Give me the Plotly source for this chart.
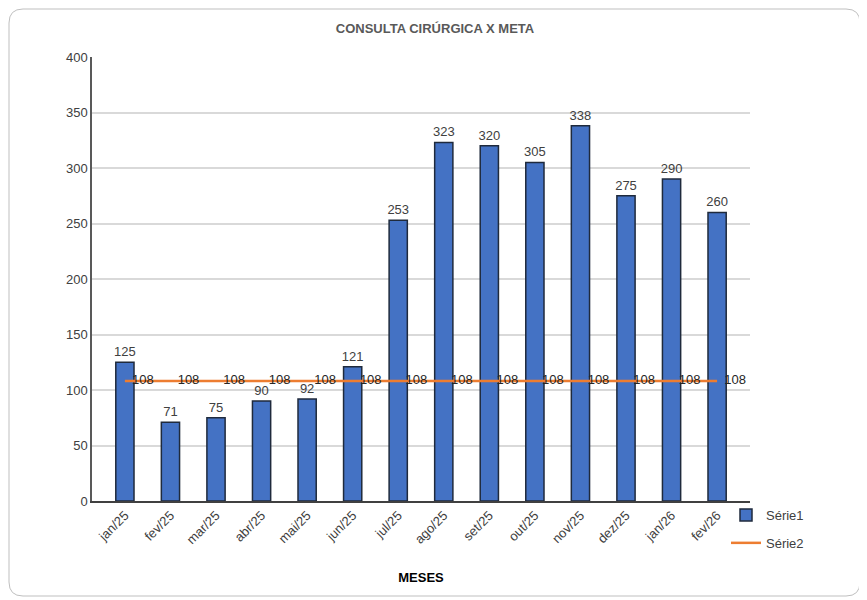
import plotly.graph_objects as go

meses = ['jan/25', 'fev/25', 'mar/25', 'abr/25', 'mai/25', 'jun/25', 'jul/25',
         'ago/25', 'set/25', 'out/25', 'nov/25', 'dez/25', 'jan/26', 'fev/26']
serie1 = [125, 71, 75, 90, 92, 121, 253, 323, 320, 305, 338, 275, 290, 260]
serie2 = [108, 108, 108, 108, 108, 108, 108, 108, 108, 108, 108, 108, 108, 108]

# page body adds an 8px offset; all targets below are screen pixels
OFF = 8
W, H = 867 - OFF, 600 - OFF
L, R, T, B = 92 - OFF, W - (750 - OFF), 57 - OFF, H - (501 - OFF)
pw, ph = W - L - R, H - T - B

def px_x(x):
    return (x - OFF - L) / pw

def px_y(y):
    return (H - B - (y - OFF)) / ph

# rounded border of the chart area
x0, y0, x1, y1, rr = 9, 9, 860, 596, 14
border = (f"M {px_x(x0 + rr)} {px_y(y0)} L {px_x(x1 - rr)} {px_y(y0)} "
          f"Q {px_x(x1)} {px_y(y0)} {px_x(x1)} {px_y(y0 + rr)} "
          f"L {px_x(x1)} {px_y(y1 - rr)} Q {px_x(x1)} {px_y(y1)} {px_x(x1 - rr)} {px_y(y1)} "
          f"L {px_x(x0 + rr)} {px_y(y1)} Q {px_x(x0)} {px_y(y1)} {px_x(x0)} {px_y(y1 - rr)} "
          f"L {px_x(x0)} {px_y(y0 + rr)} Q {px_x(x0)} {px_y(y0)} {px_x(x0 + rr)} {px_y(y0)} Z")

font = "Liberation Sans"

fig = go.Figure()
fig.add_trace(go.Bar(x=meses, y=serie1, name='Série1', legendgroup='s1',
                     marker=dict(color='#4472C4', line=dict(color='#1f2a3c', width=1.5)),
                     text=serie1, textposition='outside', cliponaxis=False, constraintext='none',
                     textfont=dict(size=13, color='#404040', family=font), width=0.4))
fig.add_trace(go.Scatter(x=meses, y=serie2, name='Série2', legendgroup='s2', mode='lines+text',
                         line=dict(color='#ED7D31', width=2.5),
                         text=serie2, texttemplate='\u00a0\u00a0%{text}',
                         textposition='middle right', cliponaxis=False,
                         textfont=dict(size=13, color='#262626', family=font)))

fig.update_layout(
    width=W, height=H, template='plotly_white',
    paper_bgcolor='white', plot_bgcolor='white',
    margin=dict(l=L, r=R, t=T, b=B, autoexpand=False),
    font=dict(family=font, color='#404040'),
    title=dict(text='<b>CONSULTA CIRÚRGICA X META</b>', x=(435 - OFF) / W, xanchor='center',
               xref='container', y=1 - (28 - OFF) / H, yanchor='middle',
               font=dict(size=13, color='#595959', family=font)),
    showlegend=True,
    legend=dict(x=px_x(726), y=px_y(500), xanchor='left', yanchor='top',
                font=dict(size=13, color='#404040', family=font),
                bgcolor='rgba(0,0,0,0)', tracegroupgap=8, itemwidth=30),
    bargap=0.6,
    shapes=[dict(type='path', path=border, xref='paper', yref='paper',
                 line=dict(color='#bfbfbf', width=1), layer='below')],
)
fig.update_yaxes(range=[0, 400], dtick=50, showgrid=True, gridcolor='#d9d9d9', gridwidth=1.5,
                 showline=True, linecolor='#595959', linewidth=1.5, zeroline=False,
                 ticks='', tickfont=dict(size=13, color='#404040', family=font))
fig.update_xaxes(showline=True, linecolor='#404040', linewidth=1.5, showgrid=False,
                 tickangle=-45, ticks='', tickfont=dict(size=13, color='#404040', family=font),
                 automargin=False,
                 title=dict(text='<b>MESES</b>', font=dict(size=13, color='#000000', family=font),
                            standoff=27))

fig.write_html("out.html")
